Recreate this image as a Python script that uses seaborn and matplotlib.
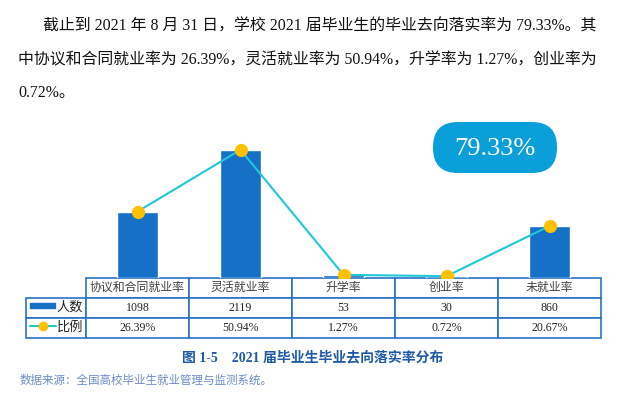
import numpy as np
import pandas as pd
import matplotlib
matplotlib.use("Agg")
import matplotlib.pyplot as plt
from matplotlib.patches import FancyBboxPatch, Rectangle
import seaborn as sns

# data
categories = ["协议和合同就业率", "灵活就业率", "升学率", "创业率", "未就业率"]
counts = [1098, 2119, 53, 30, 860]
ratios = [26.39, 50.94, 1.27, 0.72, 20.67]
ratio_labels = ["26.39%", "50.94%", "1.27%", "0.72%", "20.67%"]
row_labels = ["人数", "比例"]
total_rate = "79.33%"

para_lines = [
    "截止到 2021 年 8 月 31 日，学校 2021 届毕业生的毕业去向落实率为 79.33%。其",
    "中协议和合同就业率为 26.39%，灵活就业率为 50.94%，升学率为 1.27%，创业率为",
    "0.72%。",
]
caption = "图 1-5    2021 届毕业生毕业去向落实率分布"
source = "数据来源：全国高校毕业生就业管理与监测系统。"

bar_color = "#1570c6"
line_color = "#1fc8d6"
marker_color = "#ffc000"
pill_color = "#0a9fd8"
grid_color = "#2a72c4"

sns.set_style("white")
plt.rcParams["font.family"] = ["Liberation Serif", "Noto Sans CJK SC"]

W, H = 624, 395
fig = plt.figure(figsize=(6.24, 3.95), dpi=100)


def px(x0, y0, x1, y1):
    # pixel box (top-left origin) -> figure fraction rect
    return [x0 / W, 1 - y1 / H, (x1 - x0) / W, (y1 - y0) / H]


# bars
ax = fig.add_axes(px(86, 127, 601, 278))
df = pd.DataFrame({"cat": categories, "count": counts, "ratio": ratios})
sns.barplot(data=df, x="cat", y="count", color=bar_color, saturation=1,
            width=0.4, ax=ax)
ax.set_xlim(-0.5, 4.5)
ax.set_ylim(0, 2500)
ax.axis("off")

# ratio line on an overlay axes
ax2 = fig.add_axes(px(86, 127, 601, 278))
ax2.patch.set_alpha(0)
sns.lineplot(x=np.arange(len(ratios)), y=ratios, ax=ax2, color=line_color,
             linewidth=1.5, marker="o", markersize=9.5,
             markerfacecolor=marker_color, markeredgewidth=0)
ax2.set_xlim(-0.5, 4.5)
ax2.set_ylim(0, 60)
ax2.axis("off")

# data table under the bars
cell_text = [[""] + categories,
             [""] + [str(c) for c in counts],
             [""] + ratio_labels]
tbl = ax.table(cellText=cell_text, cellLoc="center",
               colWidths=[60] + [103] * 5,
               bbox=[-60 / 515, -60 / 151, 575 / 515, 60 / 151])
tbl.auto_set_font_size(False)
tbl.set_fontsize(8.6)
for (r, c), cell in tbl.get_celld().items():
    cell.set_edgecolor(grid_color)
    cell.set_linewidth(1.2)
    cell.get_text().set_fontfamily(["Liberation Serif", "Noto Sans CJK SC"])
    if r == 0:
        cell.get_text().set_color("#404040")
    if r == 0 and c == 0:
        cell.set_edgecolor("none")
        cell.set_facecolor("none")

# overlay axes in pixel units for the text and decorations (drawn last)
bg = fig.add_axes([0, 0, 1, 1])
bg.set_xlim(0, W)
bg.set_ylim(H, 0)
bg.axis("off")

# legend symbols in the first column
bg.add_patch(Rectangle((30, 303), 25, 5, color=bar_color))
bg.text(70, 307.5, row_labels[0], ha="center", va="center", fontsize=9.5,
        color="#222222")
bg.plot([30, 56], [326, 326], color=line_color, linewidth=1.5)
bg.plot([43], [326], "o", color=marker_color, markersize=6)
bg.text(70, 328, row_labels[1], ha="center", va="center", fontsize=9.5,
        color="#222222")

# rate badge
bg.add_patch(FancyBboxPatch((433, 122), 124, 51,
                            boxstyle="round,pad=0,rounding_size=25",
                            facecolor=pill_color, edgecolor="none"))
bg.text(495, 149, total_rate, ha="center", va="center", fontsize=19,
        color="white")

# paragraph
bg.text(43, 27, para_lines[0], va="center", fontsize=11.45, color="#111111")
bg.text(18, 60, para_lines[1], va="center", fontsize=11.45, color="#111111")
bg.text(18, 93, para_lines[2], va="center", fontsize=11.45, color="#111111")

# caption and source
bg.text(313, 358, caption, ha="center", va="center", fontsize=10,
        fontweight="bold", color="#1f5aa8")
bg.text(20, 381, source, va="center", fontsize=8.3, color="#6c8cc8")

fig.savefig("out.png", dpi=100)
